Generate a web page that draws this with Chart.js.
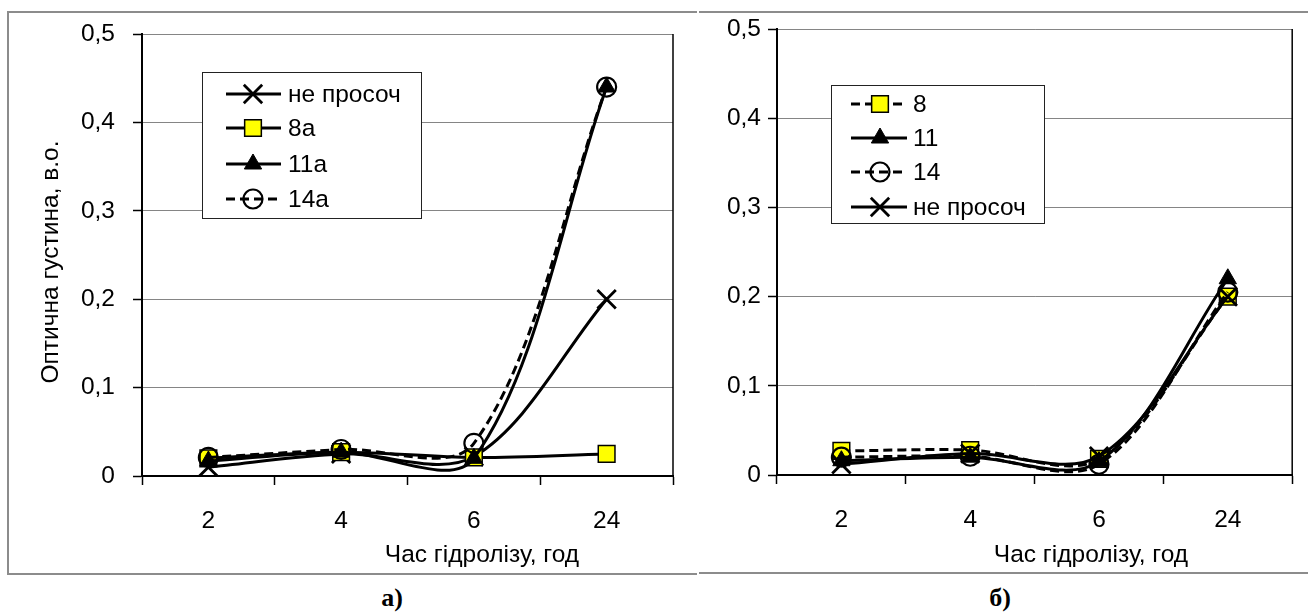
<!DOCTYPE html>
<html>
<head>
<meta charset="utf-8">
<script src="https://cdn.jsdelivr.net/npm/chart.js@4.4.1/dist/chart.umd.min.js"></script>
<style>
  html, body { margin: 0; padding: 0; background: #fff; width: 1308px; height: 613px; overflow: hidden; }
  .ln { position: absolute; background: #8c8c8c; }
  canvas { position: absolute; }
  .cap { position: absolute; font-family: 'Liberation Serif', 'Times New Roman', serif; font-weight: bold; font-size: 26px; color: #000; transform: translate(-50%, -50%); }
</style>
</head>
<body>
<div class="ln" style="left:7px;top:11px;width:690px;height:2px;"></div>
<div class="ln" style="left:7px;top:11px;width:2px;height:564px;"></div>
<div class="ln" style="left:7px;top:573px;width:690px;height:2px;"></div>
<div class="ln" style="left:699px;top:11px;width:609px;height:2px;"></div>
<div class="ln" style="left:699px;top:572px;width:609px;height:2px;"></div>

<canvas id="chartA" width="687" height="560" style="left:9px;top:13px;"></canvas>
<canvas id="chartB" width="608" height="560" style="left:700px;top:13px;"></canvas>

<div class="cap" style="left:392px;top:598px;">а)</div>
<div class="cap" style="left:1000px;top:598px;">б)</div>

<script>
// ---------- data ----------
const categories = ['2', '4', '6', '24'];
const yTickLabels = ['0', '0,1', '0,2', '0,3', '0,4', '0,5'];
const xTitle = 'Час гідролізу, год';
const yTitle = 'Оптична густина, в.о.';

const namesA = ['не просоч', '8а', '11а', '14а'];
const a_neProsoch = [0.010, 0.025, 0.022, 0.200];
const a_s8 = [0.020, 0.027, 0.021, 0.025];
const a_s11 = [0.017, 0.027, 0.020, 0.440];
const a_s14 = [0.021, 0.030, 0.037, 0.440];

const namesB = ['8', '11', '14', 'не просоч'];
const b_s8 = [0.027, 0.028, 0.018, 0.200];
const b_s11 = [0.016, 0.020, 0.015, 0.220];
const b_s14 = [0.020, 0.021, 0.012, 0.205];
const b_neProsoch = [0.012, 0.024, 0.021, 0.200];

// ---------- styles ----------
const FONT = "'Liberation Sans', Arial, sans-serif";
const FSIZE = 24.5;

const styleX = { pointStyle: 'crossRot', pointRadius: 13, pointBorderWidth: 2.8, pointBackgroundColor: '#000', pointBorderColor: '#000' };
const styleSq = { pointStyle: 'rect', pointRadius: 11.8, pointBorderWidth: 1.5, pointBackgroundColor: '#ffff00', pointBorderColor: '#000' };
const styleTri = { pointStyle: 'triangle', pointRadius: 10, pointBorderWidth: 1, pointBackgroundColor: '#000', pointBorderColor: '#000' };
const styleCirc = { pointStyle: 'circle', pointRadius: 9.5, pointBorderWidth: 2.2, pointBackgroundColor: 'rgba(255,255,255,0)', pointBorderColor: '#000' };
const SOLID = [];
const DASH = [9, 5];

function ds(label, data, st, dash, order) {
  return Object.assign({
    label, data, order,
    borderColor: '#000', borderWidth: 3, borderDash: dash,
    tension: 0.33, fill: false,
    pointHoverRadius: st.pointRadius
  }, st);
}

const decor = {
  id: 'decor',
  afterDraw(chart, args, o) {
    const ctx = chart.ctx;
    const ca = chart.chartArea;
    ctx.save();
    ctx.strokeStyle = '#000';
    ctx.lineWidth = 1.5;
    ctx.beginPath();
    ctx.moveTo(ca.right, ca.top);
    ctx.lineTo(ca.right, ca.bottom);
    ctx.stroke();
    ctx.fillStyle = '#000';
    ctx.font = FSIZE + 'px ' + FONT;
    ctx.textAlign = 'center';
    ctx.textBaseline = 'middle';
    if (o.xTitle) ctx.fillText(o.xTitle.text, o.xTitle.x, o.xTitle.y);
    if (o.yTitle) {
      ctx.save();
      ctx.translate(o.yTitle.x, o.yTitle.y);
      ctx.rotate(-Math.PI / 2);
      ctx.fillText(o.yTitle.text, 0, 0);
      ctx.restore();
    }
    const L = o.legend;
    ctx.fillStyle = '#fff';
    ctx.fillRect(L.x, L.y, L.w, L.h);
    ctx.strokeStyle = '#222';
    ctx.lineWidth = 1;
    ctx.strokeRect(L.x + 0.5, L.y + 0.5, L.w, L.h);
    chart.data.datasets.forEach((d, i) => {
      const y = L.rows[i];
      ctx.strokeStyle = d.borderColor;
      ctx.lineWidth = d.borderWidth;
      ctx.setLineDash(d.borderDash || []);
      ctx.beginPath();
      ctx.moveTo(L.x1, y);
      ctx.lineTo(L.x2, y);
      ctx.stroke();
      ctx.setLineDash([]);
      ctx.fillStyle = d.pointBackgroundColor;
      ctx.strokeStyle = d.pointBorderColor;
      ctx.lineWidth = d.pointBorderWidth;
      Chart.helpers.drawPoint(ctx, { pointStyle: d.pointStyle, radius: d.pointRadius, rotation: 0, borderWidth: d.pointBorderWidth }, L.mx, y);
      ctx.fillStyle = '#000';
      ctx.textAlign = 'left';
      ctx.textBaseline = 'middle';
      ctx.fillText(d.label, L.tx, y + 1);
    });
    ctx.restore();
  }
};

function makeOptions(cfg) {
  return {
    responsive: false,
    animation: false,
    devicePixelRatio: 1,
    layout: { padding: { top: cfg.padTop, right: cfg.padRight, left: 0, bottom: 0 } },
    elements: { line: { capBezierPoints: false } },
    plugins: {
      legend: { display: false },
      tooltip: { enabled: false },
      decor: cfg.decor
    },
    scales: {
      x: {
        type: 'category',
        offset: true,
        grid: { offset: true, drawOnChartArea: false, drawTicks: true, tickLength: 9, tickColor: '#000', tickWidth: 1.5 },
        border: { display: true, color: '#000', width: 2 },
        ticks: { color: '#000', font: { family: FONT, size: FSIZE }, padding: 22, maxRotation: 0 },
        afterFit: s => { s.height = cfg.xH; s.paddingLeft = 0; s.paddingRight = 0; s.paddingTop = 0; s.paddingBottom = 0; }
      },
      y: {
        min: 0, max: 0.5,
        grid: { color: '#858585', lineWidth: 1, drawTicks: true, tickLength: 9, tickColor: '#000', tickWidth: 1.5 },
        border: { display: true, color: '#000', width: 2 },
        ticks: {
          stepSize: 0.1, color: '#000', font: { family: FONT, size: FSIZE }, padding: cfg.yPad,
          callback: (v, i) => yTickLabels[i]
        },
        afterFit: s => { s.width = cfg.yW; s.paddingLeft = 0; s.paddingRight = 0; s.paddingTop = 0; s.paddingBottom = 0; }
      }
    }
  };
}

new Chart(document.getElementById('chartA'), {
  type: 'line',
  data: {
    labels: categories,
    datasets: [
      ds(namesA[0], a_neProsoch, styleX, SOLID, 4),
      ds(namesA[1], a_s8, styleSq, SOLID, 3),
      ds(namesA[2], a_s11, styleTri, SOLID, 2),
      ds(namesA[3], a_s14, styleCirc, DASH, 1)
    ]
  },
  options: makeOptions({
    padTop: 21, padRight: 23, xH: 97, yW: 133, yPad: 18,
    decor: {
      xTitle: { text: xTitle, x: 473, y: 542 },
      yTitle: { text: yTitle, x: 42, y: 249 },
      legend: { x: 193, y: 59, w: 219, h: 146, rows: [81, 115, 151, 186], x1: 217, x2: 272, mx: 244, tx: 279 }
    }
  }),
  plugins: [decor]
});

new Chart(document.getElementById('chartB'), {
  type: 'line',
  data: {
    labels: categories,
    datasets: [
      ds(namesB[0], b_s8, styleSq, DASH, 4),
      ds(namesB[1], b_s11, styleTri, SOLID, 3),
      ds(namesB[2], b_s14, styleCirc, DASH, 2),
      ds(namesB[3], b_neProsoch, styleX, SOLID, 1)
    ]
  },
  options: makeOptions({
    padTop: 16, padRight: 5, xH: 98, yW: 77, yPad: 7,
    decor: {
      xTitle: { text: xTitle, x: 391, y: 542 },
      yTitle: null,
      legend: { x: 131, y: 72, w: 213, h: 138, rows: [91, 125, 159, 194], x1: 151, x2: 207, mx: 180, tx: 213 }
    }
  }),
  plugins: [decor]
});
</script>
</body>
</html>
